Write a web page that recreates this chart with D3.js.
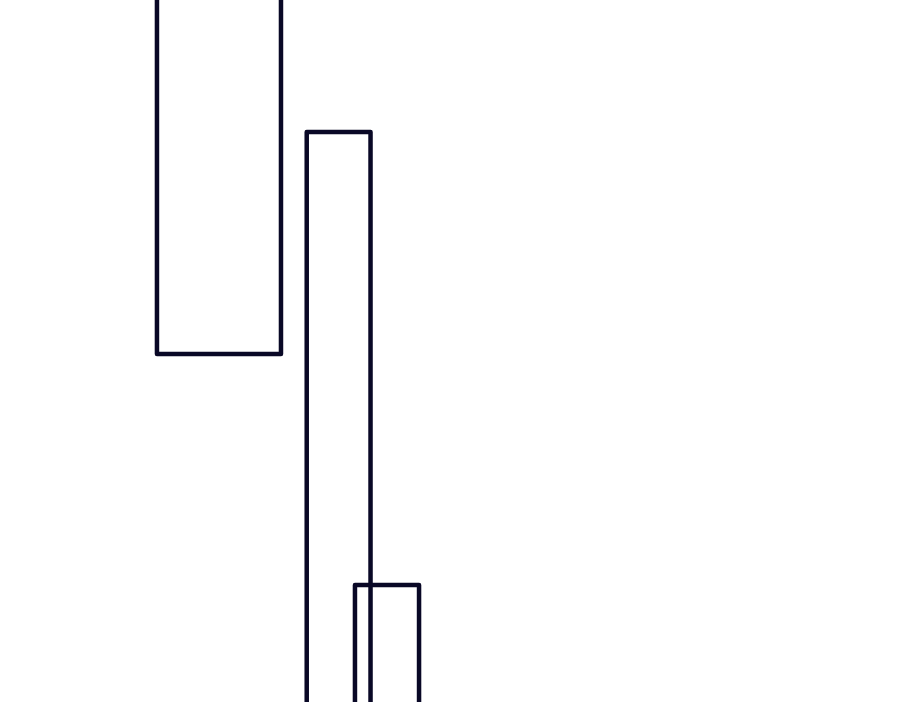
<!DOCTYPE html>
<html>
<head>
<meta charset="utf-8">
<script src="https://cdn.jsdelivr.net/npm/d3@7"></script>
<style>
html,body{margin:0;padding:0;background:#fff;overflow:hidden;}
svg{display:block;}
</style>
</head>
<body>
<script>
// Data: each box has a start/end on x and a low/high on y (in chart units)
const boxNames = ["A", "B", "C"];
const xStart = [17.44, 34.08, 39.44];
const xEnd   = [31.22, 41.17, 46.56];
const yLow   = [49.57, -5, -5];
const yHigh  = [110, 81.2, 16.67];

const W = 900, H = 702;
const svg = d3.select("body").append("svg").attr("width", W).attr("height", H);

const x = d3.scaleLinear().domain([0, 100]).range([0, W]);
const y = d3.scaleLinear().domain([0, 100]).range([H, 0]);

const data = boxNames.map((n, i) => ({name: n, x0: xStart[i], x1: xEnd[i], lo: yLow[i], hi: yHigh[i]}));

svg.append("g").selectAll("rect").data(data).join("rect")
  .attr("x", d => x(d.x0))
  .attr("width", d => x(d.x1) - x(d.x0))
  .attr("y", d => y(d.hi))
  .attr("height", d => y(d.lo) - y(d.hi))
  .attr("fill", "none")
  .attr("stroke", "#090826")
  .attr("stroke-width", 4.5)
  .attr("stroke-linejoin", "round");
</script>
</body>
</html>
